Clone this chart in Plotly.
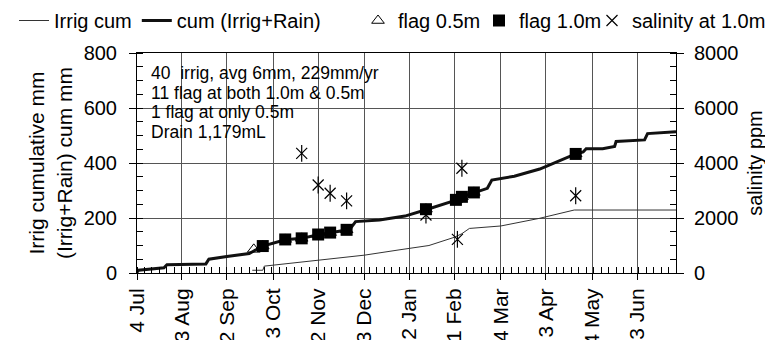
import plotly.graph_objects as go

# ---- data ----
cum_dates = ["2018-07-04", "2018-07-05", "2018-07-22", "2018-07-24", "2018-08-19", "2018-08-21",
             "2018-09-02", "2018-09-17", "2018-09-20", "2018-09-26", "2018-10-11", "2018-10-22",
             "2018-11-02", "2018-11-10", "2018-11-21", "2018-11-24", "2018-11-27", "2018-12-13",
             "2018-12-30", "2019-01-13", "2019-02-01", "2019-02-06", "2019-02-14", "2019-02-23",
             "2019-02-26", "2019-03-13", "2019-03-30", "2019-04-03", "2019-04-19", "2019-04-23",
             "2019-04-28", "2019-04-30", "2019-05-11", "2019-05-19", "2019-05-20", "2019-06-08",
             "2019-06-10", "2019-06-29"]
cum_vals = [3, 10, 19, 30, 33, 50,
            60, 71, 80, 98, 121, 126,
            139, 146, 156, 165, 187, 193,
            207, 230, 263, 277, 292, 308,
            338, 352, 378, 387, 423, 433,
            440, 452, 452, 460, 478, 484,
            507, 514]

irrig_dates = ["2018-09-19", "2018-09-26", "2018-09-27", "2018-11-03", "2018-12-03", "2018-12-26",
               "2019-01-15", "2019-02-01", "2019-02-06", "2019-02-11", "2019-03-04", "2019-03-30",
               "2019-04-04", "2019-04-22", "2019-06-29"]
irrig_vals = [10, 10, 25, 47, 65, 84,
              100, 130, 143, 162, 171, 199,
              205, 229, 229]

flag10_dates = ["2018-09-26", "2018-10-11", "2018-10-22", "2018-11-02", "2018-11-10", "2018-11-21",
                "2019-01-13", "2019-02-02", "2019-02-06", "2019-02-14", "2019-04-23"]
flag10_vals = [98, 122, 126, 140, 147, 157, 232, 266, 277, 293, 433]

flag05_dates = ["2018-09-20"] + flag10_dates
flag05_vals = [86] + flag10_vals

sal_dates = ["2018-10-22", "2018-11-02", "2018-11-10", "2018-11-21", "2019-01-13", "2019-02-03",
             "2019-02-06", "2019-04-23"]
sal_vals = [4350, 3200, 2900, 2620, 2110, 1225, 3810, 2810]

tick_dates = ["2018-07-04", "2018-08-03", "2018-09-02", "2018-10-03", "2018-11-02", "2018-12-03",
              "2019-01-02", "2019-02-01", "2019-03-04", "2019-04-03", "2019-05-04", "2019-06-03"]
tick_labels = ["4 Jul", "3 Aug", "2 Sep", "3 Oct", "2 Nov", "3 Dec",
               "2 Jan", "1 Feb", "4 Mar", "3 Apr", "4 May", "3 Jun"]

note_lines = ["40  irrig, avg 6mm, 229mm/yr", "11 flag at both 1.0m & 0.5m",
              "1 flag at only 0.5m", "Drain 1,179mL"]

FONT = "Liberation Sans, Arial, sans-serif"

# plot area in screenshot pixels (page has an 8px body margin)
PL, PR, PT, PB = 137, 676, 53, 273
PW, PH = PR - PL, PB - PT


def px(xs):
    return (xs - PL) / PW


def py(ys):
    return (PB - ys) / PH


fig = go.Figure()
fig.add_trace(go.Scatter(x=irrig_dates, y=irrig_vals, mode="lines", name="Irrig cum",
                         legend="legend", line=dict(color="#333333", width=1)))
fig.add_trace(go.Scatter(x=cum_dates, y=cum_vals, mode="lines", name="cum (Irrig+Rain)",
                         legend="legend", line=dict(color="#111111", width=3)))
fig.add_trace(go.Scatter(x=flag05_dates, y=flag05_vals, mode="markers", name="flag 0.5m",
                         legend="legend2",
                         marker=dict(symbol="triangle-up-open", size=11, color="black",
                                     line=dict(width=1, color="black"))))
fig.add_trace(go.Scatter(x=flag10_dates, y=flag10_vals, mode="markers", name="flag 1.0m",
                         legend="legend3",
                         marker=dict(symbol="square", size=12, color="black")))
fig.add_trace(go.Scatter(x=sal_dates, y=sal_vals, mode="markers", name="salinity at 1.0m",
                         yaxis="y2", legendgroup="sal", legend="legend4",
                         marker=dict(symbol="x-thin-open", size=11, color="black",
                                     line=dict(width=1.2, color="black"))))
fig.add_trace(go.Scatter(x=sal_dates, y=sal_vals, mode="markers", showlegend=False,
                         yaxis="y2", legendgroup="sal", legend="legend4",
                         marker=dict(symbol="line-ns-open", size=12, color="black",
                                     line=dict(width=1.2, color="black"))))

for i, t in enumerate(note_lines):
    ypix = 73 + i * 19.7
    fig.add_annotation(text=t, xref="paper", yref="paper", x=px(149),
                       y=py(ypix), xanchor="left", yanchor="middle",
                       showarrow=False, font=dict(size=17.5, color="black", family=FONT))

GRID = "#555555"
LEG = dict(orientation="h", yanchor="top", y=py(1), xanchor="left", font=dict(size=20),
           itemwidth=30, tracegroupgap=0, bgcolor="rgba(0,0,0,0)")
fig.update_layout(
    width=765, height=332,
    margin=dict(l=PL - 8, r=765 - (PR - 8), t=PT - 8, b=332 - (PB - 8), autoexpand=False),
    paper_bgcolor="white", plot_bgcolor="white",
    font=dict(family=FONT, size=20, color="black"),
    showlegend=True,
    legend=dict(LEG, x=px(14)),
    legend2=dict(LEG, x=px(358)),
    legend3=dict(LEG, x=px(479)),
    legend4=dict(LEG, x=px(592)),
    xaxis=dict(type="date", range=["2018-07-04", "2019-06-29"],
               tickvals=tick_dates, ticktext=tick_labels, tickangle=-90,
               ticks="outside", ticklen=6, tickcolor="black",
               showline=True, linecolor="black", linewidth=1, mirror=True,
               showgrid=True, gridcolor=GRID, gridwidth=1,
               ticklabelstandoff=0, automargin=False,
               minor=dict(ticks="inside", ticklen=6, tickcolor="black",
                          tick0="2018-07-04", dtick=5 * 86400000, showgrid=False),
               tickfont=dict(size=21)),
    yaxis=dict(range=[0, 800], tickvals=[0, 200, 400, 600, 800],
               ticks="outside", ticklen=7, tickcolor="black",
               showline=True, linecolor="black", linewidth=1,
               showgrid=True, gridcolor=GRID, gridwidth=1, zeroline=False,
               ticklabelstandoff=8,
               minor=dict(ticks="inside", ticklen=6, tickcolor="black", dtick=50, showgrid=False),
               title=dict(text="Irrig cumulative mm<br>(Irrig+Rain) cum mm",
                          font=dict(size=21), standoff=5),
               automargin=False, tickfont=dict(size=20)),
    yaxis2=dict(range=[0, 8000], tickvals=[0, 2000, 4000, 6000, 8000],
                overlaying="y", side="right",
                ticks="outside", ticklen=7, tickcolor="black",
                showline=True, linecolor="black", linewidth=1,
                showgrid=False, zeroline=False, ticklabelstandoff=6,
                minor=dict(ticks="inside", ticklen=6, tickcolor="black", dtick=500),
                title=dict(text="salinity ppm", font=dict(size=20), standoff=10),
                automargin=False, tickfont=dict(size=20)),
)

fig.write_html("out.html")
